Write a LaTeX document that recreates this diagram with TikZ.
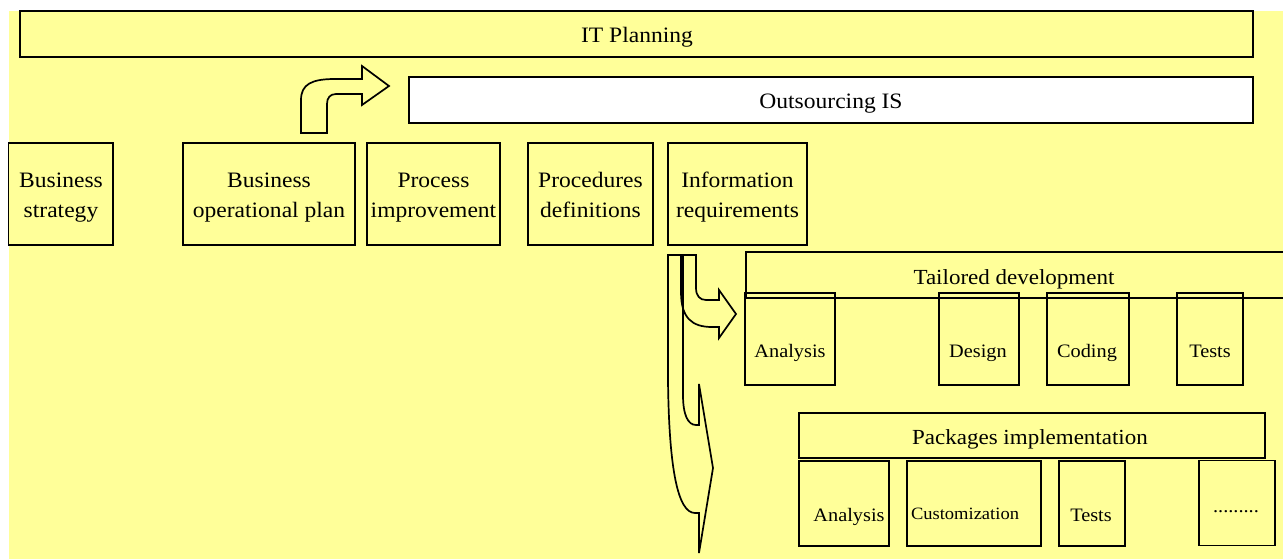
\documentclass[tikz,border=0pt]{standalone}
\usepackage{fontspec}
\setmainfont{Liberation Serif}[FakeStretch=1.07]
\definecolor{bgy}{HTML}{FFFF99}
\begin{document}
\begin{tikzpicture}[x=1pt,y=-1pt,
  box/.style={draw, line width=1.9pt, rectangle, inner sep=0pt, align=center},
  bigtxt/.style={font=\fontsize{22}{30}\selectfont},
  midtxt/.style={font=\fontsize{21.5}{26}\selectfont, inner sep=0pt},
  smalltxt/.style={font=\fontsize{19}{22}\selectfont, inner sep=0pt},
  tinytxt/.style={font=\fontsize{17.3}{20}\selectfont, inner sep=0pt},
  toprow/.style={box, bigtxt, minimum height=102pt},
  subbox/.style={box, minimum height=92pt},
  pkgbox/.style={box, minimum height=85pt},
  blockarrow/.style={draw, line width=1.7pt, line join=miter}]
\useasboundingbox (0,0) rectangle (1283,559);
\fill[white] (0,0) rectangle (1283,559);
\fill[bgy] (9,11) rectangle (1283,559);

% planning bands
\node[box, minimum width=1233pt, minimum height=46pt] (it) at (636.5,34) {};
\node[bigtxt, inner sep=0pt] (itt) at (637,37) {IT Planning};
\node[box, fill=white, minimum width=844pt, minimum height=46pt] (out) at (831,100) {};
\node[bigtxt, inner sep=0pt] (outt) at (831,104) {Outsourcing IS};

% top row
\node[toprow, minimum width=104.5pt] (bs) at (60.75,194) {};
\node[toprow, minimum width=172pt] (bop) at (269,194) {};
\node[toprow, minimum width=133pt] (pi) at (433.5,194) {};
\node[toprow, minimum width=125pt] (pd) at (590.5,194) {};
\node[toprow, minimum width=139pt] (ir) at (737.5,194) {};
\node[bigtxt, align=center, inner sep=0pt] (bst) at (61,196) {\strut Business\\\strut strategy};
\node[bigtxt, align=center, inner sep=0pt] (bopt) at (269,196) {\strut Business\\\strut operational plan};
\node[bigtxt, align=center, inner sep=0pt] (pit) at (433.5,196) {\strut Process\\\strut improvement};
\node[bigtxt, align=center, inner sep=0pt] (pdt) at (590.5,196) {\strut Procedures\\\strut definitions};
\node[bigtxt, align=center, inner sep=0pt] (irt) at (737.5,196) {\strut Information\\\strut requirements};

% bent arrow to outsourcing
\draw[blockarrow] (301,133) -- (301,100) .. controls (301,84) and (312,79) .. (335,79)
  -- (362,79) -- (362,66) -- (389,86) -- (362,105) -- (362,94) -- (336,94)
  .. controls (330,94) and (327,98) .. (327,104) -- (327,133) -- cycle;

% tailored development
\begin{scope}
\clip (0,0) rectangle (1283,559);
\node[box, minimum width=560pt, minimum height=46pt, anchor=west] (tail) at (745,275) {};
\end{scope}
\node[midtxt] (tailt) at (1014,279) {Tailored development};

\node[subbox, minimum width=90pt] (ta) at (790,339) {};
\node[subbox, minimum width=80pt] (td) at (979,339) {};
\node[subbox, minimum width=82pt] (tc) at (1088,339) {};
\node[subbox, minimum width=66pt] (tt) at (1210,339) {};
\node[smalltxt] (tat) at (790,353) {Analysis};
\node[smalltxt] (tdt) at (978,353) {Design};
\node[smalltxt] (tct) at (1087,353) {Coding};
\node[smalltxt] (ttt) at (1210,351) {Tests};

% packages implementation
\node[box, minimum width=466pt, minimum height=45pt] (pk) at (1032,435.5) {};
\node[midtxt] (pkt) at (1030,439) {Packages implementation};
\node[pkgbox, minimum width=90pt] (pa) at (844,503.5) {};
\node[pkgbox, minimum width=134pt] (pc) at (974,503.5) {};
\node[pkgbox, minimum width=66pt] (pt) at (1092,503.5) {};
\node[pkgbox, minimum width=76pt] (pdots) at (1237,503) {};
\node[smalltxt] (pat) at (849,517) {Analysis};
\node[tinytxt] (pct) at (965,514) {Customization};
\node[smalltxt] (ptt) at (1091,515) {Tests};
\node[smalltxt] (pdt2) at (1236,512) {.........};

% curved arrows from information requirements
\draw[blockarrow] (668,255) -- (668,380) .. controls (669,470) and (678,513) .. (695,513)
  -- (699,513) -- (699,553) -- (713,468) -- (699,384) -- (699,425) -- (696,425)
  .. controls (688,425) and (683,415) .. (683,395) -- (683,255) -- cycle;
\draw[blockarrow] (681,255) -- (681,292) .. controls (681,318) and (692,327) .. (712,327)
  -- (719,327) -- (719,338) -- (736,314) -- (719,290) -- (719,300) -- (706,300)
  .. controls (700,300) and (696,296) .. (696,288) -- (696,255) -- cycle;
\end{tikzpicture}
\end{document}
